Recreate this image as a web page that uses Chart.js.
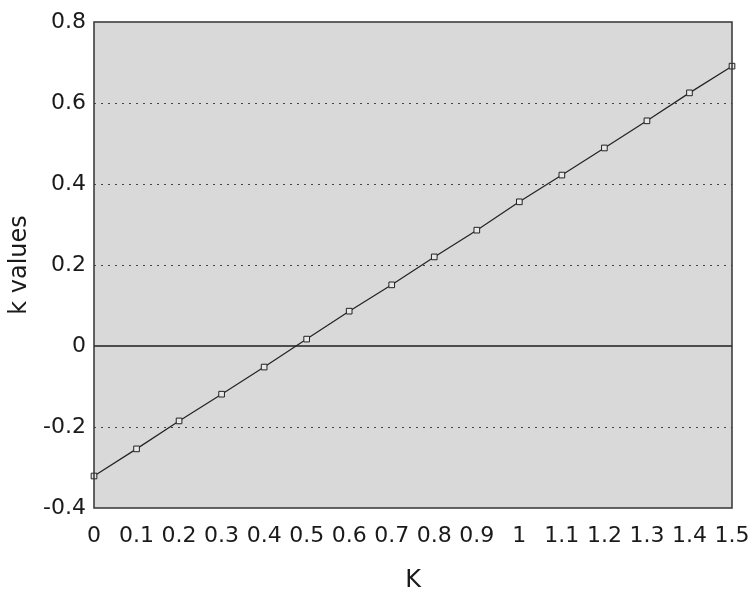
<!DOCTYPE html>
<html>
<head>
<meta charset="utf-8">
<script src="https://cdn.jsdelivr.net/npm/chart.js@4.4.1/dist/chart.umd.min.js"></script>
<style>
  html, body { margin: 0; padding: 0; background: #ffffff; }
  #wrap { width: 755px; height: 597px; position: relative; }
</style>
</head>
<body>
<div id="wrap"><canvas id="c" width="755" height="597"></canvas></div>
<script>
// Data
const kInputs = [0, 0.1, 0.2, 0.3, 0.4, 0.5, 0.6, 0.7, 0.8, 0.9, 1.0, 1.1, 1.2, 1.3, 1.4, 1.5];
const kValues = [-0.321, -0.254, -0.185, -0.119, -0.052, 0.017, 0.086, 0.151, 0.220, 0.286, 0.356, 0.422, 0.489, 0.556, 0.625, 0.691];
const xTickValues = [0, 0.1, 0.2, 0.3, 0.4, 0.5, 0.6, 0.7, 0.8, 0.9, 1, 1.1, 1.2, 1.3, 1.4, 1.5];
const yTickValues = [-0.4, -0.2, 0, 0.2, 0.4, 0.6, 0.8];
const xTitle = "K";
const yTitle = "k values";

const fmt = v => String(Math.round(v * 10) / 10);

const bgPlugin = {
  id: 'plotBg',
  beforeDraw(chart) {
    const a = chart.chartArea, ctx = chart.ctx;
    ctx.save();
    ctx.fillStyle = '#d9d9d9';
    ctx.fillRect(a.left, a.top, a.right - a.left, a.bottom - a.top);
    ctx.restore();
  },
  beforeDatasetsDraw(chart) {
    // solid zero line
    const a = chart.chartArea, ctx = chart.ctx;
    const y0 = chart.scales.y.getPixelForValue(0);
    ctx.save();
    ctx.strokeStyle = '#1e1e1e';
    ctx.lineWidth = 1.5;
    ctx.beginPath();
    ctx.moveTo(a.left, y0);
    ctx.lineTo(a.right, y0);
    ctx.stroke();
    ctx.restore();
  },
  afterDatasetsDraw(chart) {
    const a = chart.chartArea, ctx = chart.ctx;
    ctx.save();
    ctx.strokeStyle = '#333333';
    ctx.lineWidth = 1.5;
    ctx.strokeRect(a.left, a.top, a.right - a.left, a.bottom - a.top);
    ctx.restore();
  }
};

new Chart(document.getElementById('c'), {
  type: 'scatter',
  data: {
    datasets: [{
      data: kInputs.map((x, i) => ({ x: x, y: kValues[i] })),
      showLine: true,
      borderColor: '#222222',
      borderWidth: 1.2,
      pointStyle: 'rect',
      pointRadius: 4,
      pointBorderWidth: 1,
      pointBorderColor: '#222222',
      pointBackgroundColor: '#e8e8e8',
      tension: 0,
      clip: false
    }]
  },
  options: {
    responsive: false,
    animation: false,
    layout: { padding: { left: 0, right: 23, top: 22, bottom: 0 } },
    plugins: { legend: { display: false }, tooltip: { enabled: false } },
    scales: {
      x: {
        type: 'linear',
        min: 0, max: 1.5,
        afterBuildTicks(scale) { scale.ticks = xTickValues.map(v => ({ value: v })); },
        afterFit(scale) {
          scale.height = 597 - 508;
          scale.paddingLeft = 0;
          scale.paddingRight = 0;
        },
        ticks: {
          autoSkip: false, maxRotation: 0, minRotation: 0,
          color: '#1a1a1a',
          font: { family: 'DejaVu Sans', size: 22 },
          padding: 15,
          callback: v => fmt(v)
        },
        grid: { display: false, drawTicks: false },
        border: { display: false },
        title: {
          display: true, text: xTitle, color: '#1a1a1a',
          font: { family: 'DejaVu Sans', size: 24 },
          padding: { top: 12, bottom: 2 }
        }
      },
      y: {
        type: 'linear',
        min: -0.4, max: 0.8,
        afterBuildTicks(scale) { scale.ticks = yTickValues.map(v => ({ value: v })); },
        afterFit(scale) {
          scale.width = 94;
          scale.paddingTop = 0;
          scale.paddingBottom = 0;
        },
        ticks: {
          color: '#1a1a1a',
          font: { family: 'DejaVu Sans', size: 22 },
          padding: 8,
          callback: v => fmt(v)
        },
        grid: {
          drawTicks: false,
          color: ctx => {
            const v = Math.round(ctx.tick.value * 10) / 10;
            if (v === 0 || v === 0.8 || v === -0.4) return 'rgba(0,0,0,0)';
            return '#444444';
          },
          lineWidth: 1
        },
        border: { display: false, dash: [2, 5] },
        title: {
          display: true, text: yTitle, color: '#1a1a1a',
          font: { family: 'DejaVu Sans', size: 24 },
          padding: { top: 5, bottom: 4 }
        }
      }
    }
  },
  plugins: [bgPlugin]
});
</script>
</body>
</html>
